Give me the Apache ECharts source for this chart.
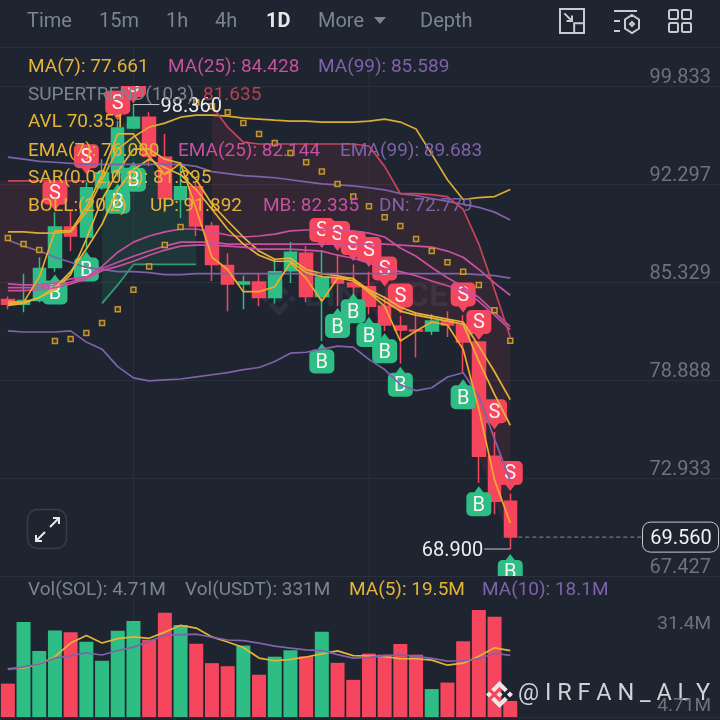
<!DOCTYPE html>
<html><head><meta charset="utf-8">
<style>html,body{margin:0;padding:0;background:#1e2430}#c{width:720px;height:720px}</style>
<script src="https://cdn.jsdelivr.net/npm/echarts@6/dist/echarts.min.js"></script></head>
<body><div id="c"></div><script>
const categories = Array.from({length:45},(_,i)=>String(i+1));
const opens  = [84.15,83.82,84.08,86.33,89.17,88.46,92.02,93.14,96.53,97.37,94.30,91.16,92.09,89.24,86.47,85.20,85.33,84.28,86.11,87.32,84.34,85.66,85.26,85.00,83.69,82.37,82.11,82.05,82.70,82.44,81.32,74.21,71.58];
const closes = [83.82,84.08,86.26,89.17,88.53,92.02,93.14,96.53,97.37,94.38,91.23,92.09,89.24,86.54,85.20,85.33,84.28,86.04,87.39,84.34,85.66,85.26,85.00,83.69,82.44,82.11,82.05,82.70,82.44,81.32,74.21,71.58,69.56];
const lows   = [83.49,83.29,83.95,86.04,87.47,87.61,91.87,92.84,96.45,93.61,90.24,89.81,88.53,85.40,83.36,83.49,83.69,83.88,85.26,83.95,81.39,83.69,83.49,83.16,82.05,79.94,80.33,81.78,81.65,79.35,72.65,70.85,68.90];
const highs  = [84.34,85.90,87.04,90.24,90.31,92.45,94.14,97.07,98.36,97.76,96.07,93.92,92.38,89.53,87.32,85.76,85.90,86.83,88.10,87.82,87.54,87.25,86.54,86.04,84.34,83.03,83.29,83.16,83.36,83.10,81.32,75.67,72.03];
const ma7    = [83.88,83.95,84.28,84.80,85.83,88.32,91.16,93.22,94.91,94.91,94.15,93.84,92.61,90.81,89.60,88.46,87.47,86.90,86.97,86.19,85.90,85.76,85.54,84.80,84.28,83.62,83.23,83.03,82.83,82.64,81.06,79.41,77.66];
const ema7   = [83.75,83.88,84.28,84.94,86.04,87.61,89.38,91.87,93.38,94.15,93.53,92.99,91.87,90.45,89.03,87.96,87.18,86.76,86.76,85.97,85.69,85.62,85.40,84.67,84.02,83.36,83.10,82.90,82.70,82.50,80.07,77.98,76.08];
const avl    = [84.02,83.95,85.66,88.89,88.89,90.59,92.99,96.07,96.07,94.38,92.99,93.84,90.45,87.04,86.19,84.67,84.67,85.00,86.65,85.58,84.02,85.58,85.58,84.61,83.69,81.39,82.05,82.64,82.44,80.86,77.07,72.82,70.35];
const bollUp = [88.82,88.82,88.74,88.74,88.82,90.24,92.61,94.91,95.84,96.60,96.91,97.37,97.53,97.53,97.45,97.30,97.22,97.14,97.07,97.07,96.99,96.99,96.99,97.07,97.22,96.99,96.45,94.53,92.61,91.16,91.30,91.37,91.89];
const bollMb = [85.20,85.13,85.13,85.26,85.54,85.66,86.40,87.39,88.10,88.53,88.82,89.03,89.03,88.82,88.60,88.46,88.53,88.67,88.89,88.96,89.03,88.96,88.89,88.74,88.46,87.68,87.11,86.33,85.62,85.00,84.28,83.29,82.34];
const bollDn = [82.05,81.98,81.98,81.98,82.05,81.32,80.86,79.74,79.02,78.83,78.89,78.95,79.08,79.22,79.35,79.55,79.68,80.07,80.60,80.66,80.86,81.06,80.99,80.20,79.55,78.59,78.22,78.40,79.08,79.35,77.86,75.24,72.78];
const ma25   = [84.94,84.94,84.94,85.13,85.33,85.66,86.26,86.69,87.11,87.47,87.82,88.10,88.10,88.10,87.96,87.96,87.96,87.96,87.96,87.96,87.96,87.96,87.96,87.96,87.96,87.89,87.82,87.75,87.47,87.04,86.19,85.26,84.43];
const ema25  = [84.74,84.74,84.80,84.94,85.20,85.54,86.11,86.40,86.76,87.18,87.54,87.82,87.89,87.89,87.82,87.75,87.61,87.61,87.61,87.54,87.47,87.18,86.97,86.62,86.26,86.04,85.76,85.40,85.07,84.74,84.02,83.10,82.14];
const ma99   = [88.25,87.82,87.47,87.04,86.69,86.33,86.19,86.04,86.04,85.97,85.83,85.83,85.90,85.90,85.90,85.90,85.90,85.90,85.90,85.90,85.90,85.90,85.90,85.90,85.90,85.90,85.90,85.90,85.90,85.90,85.83,85.76,85.59];
const ema99  = [94.30,94.15,93.99,93.92,93.84,93.76,93.76,93.76,93.76,93.76,93.76,93.76,93.61,93.22,93.07,92.92,92.84,92.76,92.61,92.45,92.30,92.23,92.16,92.02,91.87,91.59,91.45,91.23,91.02,90.81,90.59,90.24,89.68];
const sar    = [88.39,87.96,87.54,81.39,81.52,81.91,82.57,83.49,84.80,86.40,87.89,89.17,98.52,98.22,97.76,96.91,96.07,95.38,94.61,93.92,93.22,92.30,91.37,90.66,89.88,89.24,88.32,87.47,86.69,86.04,85.13,83.42,81.40];
const stRed  = [92.53,92.53,92.53,92.53,92.53,92.53,null,null,null,null,null,null,null,98.22,96.60,95.45,95.30,95.30,95.30,95.30,95.30,95.30,95.30,95.15,93.61,91.59,91.59,91.52,91.37,90.45,87.96,84.80,81.64];
const stGreen= [null,null,null,null,null,null,83.88,85.13,86.54,86.54,86.54,86.54,86.54,null,null,null,null,null,null,null,null,null,null,null,null,null,null,null,null,null,null,null,null];
const sellIdx = [3,5,7,8,20,21,22,23,24,25,29,30,31,32];
const sellAt  = [91.66,94.38,98.52,99.90,88.96,88.74,88.03,87.61,86.26,84.41,84.48,82.64,76.94,73.23];
const buyIdx  = [3,5,7,8,20,21,22,23,24,25,29,30,32];
const buyAt   = [84.61,86.19,91.00,92.61,80.07,82.37,83.36,81.78,80.73,78.59,77.80,71.42,67.65];
const volumes = [9.8,27.9,19.4,25.4,24.9,22.1,16.5,25.3,28.2,22.7,30.6,27.0,21.5,15.8,14.9,21.0,12.4,17.7,19.6,17.8,25.0,15.9,10.9,18.6,18.3,21.4,18.3,8.2,10.1,22.2,31.4,29.4,4.71];
const volMa5  = [14.1,14.4,15.5,17.7,21.7,23.9,21.7,23.0,23.5,23.1,24.9,26.9,26.1,23.5,22.0,20.4,17.3,16.5,16.9,17.6,18.5,19.4,18.0,17.9,17.7,17.1,17.1,16.7,15.2,15.8,17.8,20.3,19.5];
const volMa10 = [14.0,14.7,15.5,17.3,18.0,18.8,18.2,19.5,20.5,22.2,24.0,24.2,24.3,23.4,22.6,22.4,21.7,20.8,20.2,19.7,19.5,18.3,17.3,17.5,18.0,18.2,17.8,17.2,16.4,16.5,17.1,18.7,18.1];
const priceTicks = [67.427,72.933,78.888,85.329,92.297,99.833];
const crossIdx = [8,23];
const highPoint = [8,98.36], lowPoint = [32,68.90], lastPrice = [32,69.56];

const BG='#1e2430', GRID='#2a303b', GREEN='#2ebd85', RED='#f6465d', YEL='#e5b437', PINK='#c9509f', PUR='#7f62a8', GRAY='#7b8492', AXIS='#6b7380';
const FONT='Roboto, sans-serif';
const SELL='M5 0H20A5 5 0 0 1 25 5V19A5 5 0 0 1 20 24H17L12.5 30L8 24H5A5 5 0 0 1 0 19V5A5 5 0 0 1 5 0Z';
const BUY ='M12.5 0L17 6H20A5 5 0 0 1 25 11V25A5 5 0 0 1 20 30H5A5 5 0 0 1 0 25V11A5 5 0 0 1 5 6H8Z';
const LOGO='M38.73 53.2 63.3 28.63l24.58 24.58 14.3-14.3L63.3 0 24.43 38.9zM0 63.31l14.3-14.3 14.3 14.3-14.3 14.3zM38.73 73.41 63.3 97.98l24.58-24.58 14.3 14.3L63.3 126.61 24.43 87.73zM97.99 63.31l14.3-14.3 14.3 14.3-14.3 14.3zM77.83 63.3 63.3 48.78 52.58 59.5l-1.23 1.23-2.54 2.54 14.49 14.46 14.53-14.48z';

function T(x,y,text,fill,size,extra){
  return {type:'text',x,y:y+1.5,z:100,silent:true,style:Object.assign({text,fill,font:(size||19)+'px '+FONT,textVerticalAlign:'middle',textBaseline:'middle'},extra||{})};
}
const legend=[
 T(28,66,'MA(7): 77.661',YEL),T(168,66,'MA(25): 84.428',PINK),T(318,66,'MA(99): 85.589',PUR),
 T(28,94,'SUPERTREND(10,3)',GRAY),T(203,94,'81.635','#b8404f'),
 T(28,121,'AVL 70.351',YEL),
 T(28,150,'EMA(7): 76.080',YEL),T(178,150,'EMA(25): 82.144',PINK),T(340,150,'EMA(99): 89.683',PUR),
 T(28,177,'SAR(0.02,0.2): 81.395',YEL),
 T(28,205,'BOLL:(20,2)',YEL),T(150,205,'UP: 91.892',YEL),T(263,205,'MB: 82.335',PINK),T(379,205,'DN: 72.779',PUR),
 T(28,589,'Vol(SOL): 4.71M',GRAY),T(185,589,'Vol(USDT): 331M',GRAY),T(349,589,'MA(5): 19.5M',YEL),T(482,589,'MA(10): 18.1M',PUR),
 T(711,623,'31.4M',AXIS,19,{textAlign:'right'}),T(711,705,'4.71M',AXIS,19,{textAlign:'right'}),
];
const header=[
 T(27,20,'Time',GRAY,20),T(99,20,'15m',GRAY,20),T(166,20,'1h',GRAY,20),T(215,20,'4h',GRAY,20),
 {type:'text',x:266,y:21.5,z:100,style:{text:'1D',fill:'#e6e8ea',font:'bold 20px '+FONT,textBaseline:'middle',textVerticalAlign:'middle'}},
 T(318,20,'More',GRAY,20),T(420,20,'Depth',GRAY,20),
 {type:'polygon',z:100,shape:{points:[[374,17],[386,17],[380,24]]},style:{fill:GRAY}},
 {type:'line',z:1,shape:{x1:0,y1:47.5,x2:720,y2:47.5},style:{stroke:GRID,lineWidth:1}},
 {type:'line',z:1,shape:{x1:700,y1:717.5,x2:720,y2:717.5},style:{stroke:GRID,lineWidth:1}},
 T(518,693,'@ I R F A N _ A L Y','#cfd3d8',23.5),
];
function decor(name,z,items){
  return {name,type:'custom',coordinateSystem:'none',z,silent:true,animation:false,data:[[0]],
    renderItem(){return {type:'group',children:items};}};
}
const iconStyle={stroke:'#c7ccd3',fill:null,lineWidth:2};
const iconItems=[
 {type:'path',shape:{pathData:'M574 10H561V32H574M583 23V10H574M574 23H583V32H574ZM565 14L572 21M572 16V21H567',x:560,y:9,width:24,height:24,layout:'cover'},style:iconStyle},
 {type:'path',shape:{pathData:'M614 11H637M614 21H620M614 31H620M632 15L639 19.5V28.5L632 33L625 28.5V19.5ZM632 22L634 24L632 26L630 24Z',x:614,y:11,width:25,height:22,layout:'cover'},style:iconStyle},
 ...[[669,10],[682,10],[669,23],[682,23]].map(p=>({type:'rect',shape:{x:p[0],y:p[1],width:9,height:9,r:1.5},style:iconStyle})),
 {type:'rect',shape:{x:27.5,y:509.5,width:39,height:39,r:10},style:{stroke:'#363c48',fill:null,lineWidth:1.5}},
 {type:'path',shape:{pathData:'M50 527L59 518M53 518H59V524M45 532L36 541M36 535V541H42',x:36,y:518,width:23,height:23,layout:'cover'},style:{stroke:'#e6e8ea',fill:null,lineWidth:2}},
 {type:'path',shape:{pathData:LOGO,x:486,y:681,width:27,height:27,layout:'cover'},style:{fill:'#f1e6e6'}},
];
const wmItems=[
 {type:'path',shape:{pathData:LOGO,x:262,y:282,width:34,height:34,layout:'cover'},style:{fill:'#2c323d'}},
 {type:'text',style:{text:'BINANCE',x:304,y:297,fill:'#2c323d',font:'bold 34px '+FONT,textBaseline:'middle',textVerticalAlign:'middle'}},
];

function line(name,data,color,extra){
  return Object.assign({name,type:'line',data,xAxisIndex:0,yAxisIndex:0,showSymbol:false,symbol:'none',z:5,silent:true,connectNulls:false,
    lineStyle:{color,width:1.7},animation:false},extra||{});
}
function marks(name,idx,at,path,color,letter,dy){
  return {name,type:'custom',xAxisIndex:0,yAxisIndex:0,clip:true,z:4,silent:true,animation:false,
    data:idx.map((k,j)=>[k,at[j]]),encode:{x:0,y:1},
    renderItem(p,api){
      const c=api.coord([api.value(0),api.value(1)]);
      return {type:'group',children:[
        {type:'path',shape:{pathData:path,x:c[0]-12.5,y:c[1]-15+dy,width:25,height:30,layout:'cover'},style:{fill:color}},
        {type:'text',style:{text:letter,x:c[0],y:c[1]+1.5,fill:'#fdf3f3',font:'20px '+FONT,textAlign:'center',textVerticalAlign:'middle',textBaseline:'middle'}}
      ]};
    }};
}
const option={
 animation:false,backgroundColor:BG,
 grid:[{left:0,width:706.5,top:86,height:490},{left:0,width:706.5,top:610,height:107}],
 xAxis:[0,1].map(g=>({type:'category',gridIndex:g,data:categories,boundaryGap:true,
   axisLine:{show:true,lineStyle:{color:GRID}},axisTick:{show:false},axisLabel:{show:false},splitLine:{show:false}})),
 yAxis:[
  {type:'log',gridIndex:0,position:'right',min:67.427,max:99.833,
   axisLine:{show:false},axisTick:{show:false,customValues:priceTicks},
   splitLine:{show:true,lineStyle:{color:GRID,width:1}},
   axisLabel:{show:true,inside:true,margin:-4.5,customValues:priceTicks,verticalAlign:'bottom',color:AXIS,fontSize:20,fontFamily:FONT,formatter:v=>Number(v).toFixed(3),lineHeight:16}},
  {type:'value',gridIndex:1,position:'right',min:0,max:31.4,axisLine:{show:false},axisTick:{show:false},axisLabel:{show:false},splitLine:{show:false}}
 ],
 graphic:{elements:[...header,...legend]},
 series:[
  decor('Watermark',0,wmItems),
  {name:'GridRight',type:'custom',xAxisIndex:0,yAxisIndex:0,z:0,silent:true,clip:false,animation:false,
   data:priceTicks.map(v=>[32,v]),encode:{x:0,y:1},
   renderItem(p,api){
     const y=Math.round(api.coord([api.value(0),api.value(1)])[1])+0.5;
     return {type:'line',shape:{x1:700,y1:y,x2:720,y2:y},style:{stroke:GRID,lineWidth:1}};
   }},
  {name:'CrossLines',type:'custom',xAxisIndex:0,yAxisIndex:0,z:0,silent:true,clip:false,animation:false,
   data:crossIdx.map(k=>[k,opens[k]]),encode:{x:0,y:1},
   renderItem(p,api){
     const c=api.coord([api.value(0),api.value(1)]);
     return {type:'line',shape:{x1:c[0],y1:48,x2:c[0],y2:717},style:{stroke:GRID,lineWidth:1}};
   }},
  {name:'SuperTrendFill',type:'custom',xAxisIndex:0,yAxisIndex:0,z:1,silent:true,clip:true,animation:false,
   data:closes.map((c,i)=>[i,c]),encode:{x:0,y:1},
   renderItem(p,api){
     const i=api.value(0); if(i>=closes.length-1) return null;
     const red=stRed[i]!=null, top=red?stRed[i]:stGreen[i];
     const nextTop=red?stRed[i+1]:stGreen[i+1];
     if(!red && nextTop==null) return null;
     const tn=nextTop==null?top:nextTop;
     const a=api.coord([i,top]),b=api.coord([i+1,tn]),c=api.coord([i+1,closes[i+1]]),d=api.coord([i,closes[i]]);
     if(i===0){a[0]-=8;d[0]-=8;}
     return {type:'polygon',shape:{points:[a,b,c,d]},style:{fill:red?'rgba(246,70,93,0.10)':'rgba(46,189,133,0.13)'}};
   }},
  {name:'Price',type:'candlestick',xAxisIndex:0,yAxisIndex:0,z:3,silent:true,barWidth:13,animation:false,
   data:opens.map((o,i)=>[o,closes[i],lows[i],highs[i]]),
   itemStyle:{color:GREEN,color0:RED,borderColor:GREEN,borderColor0:RED,borderWidth:1.5}},
  marks('Sell',sellIdx,sellAt,SELL,RED,'S',3),
  marks('Buy',buyIdx,buyAt,BUY,GREEN,'B',-3),
  line('BOLL UP',bollUp,'#d9ab30'),line('BOLL MB',bollMb,PINK),line('BOLL DN',bollDn,PUR),
  line('MA7',ma7,YEL),line('MA25',ma25,PINK),line('MA99',ma99,PUR),
  line('EMA7',ema7,YEL),line('EMA25',ema25,PINK),line('EMA99',ema99,PUR),
  line('AVL',avl,'#f0a92a'),
  line('SuperTrendDown',stRed,'#c9435a'),line('SuperTrendUp',stGreen,'#2f9c76'),
  {name:'SAR',type:'scatter',xAxisIndex:0,yAxisIndex:0,data:sar.map((v,i)=>[i,v]),symbol:'rect',symbolSize:5,z:6,silent:true,animation:false,
   itemStyle:{color:'#4b3d1c',borderColor:'#e5b033',borderWidth:1.5}},
  {name:'Flags',type:'custom',xAxisIndex:0,yAxisIndex:0,z:7,silent:true,animation:false,
   data:[[highPoint[0],highPoint[1],1],[lowPoint[0],lowPoint[1],-1]],encode:{x:0,y:1},
   renderItem(p,api){
     const v=api.value(1),dir=api.value(2),c=api.coord([api.value(0),v]);
     const x2=c[0]+dir*26;
     return {type:'group',children:[
       {type:'line',shape:{x1:c[0],y1:c[1],x2,y2:c[1]},style:{stroke:'#c4c8ce',lineWidth:1}},
       {type:'text',style:{text:v.toFixed(3),x:x2+dir*1,y:c[1]+2,fill:'#eceef0',font:'20px '+FONT,textAlign:dir>0?'left':'right',textVerticalAlign:'middle',textBaseline:'middle'}}
     ]};
   }},
  {name:'LastPrice',type:'custom',xAxisIndex:0,yAxisIndex:0,z:8,silent:true,animation:false,
   data:[lastPrice],encode:{x:0,y:1},
   renderItem(p,api){
     const v=api.value(1),c=api.coord([api.value(0),v]);
     return {type:'group',children:[
       {type:'line',shape:{x1:c[0]+8,y1:c[1],x2:642,y2:c[1]},style:{stroke:'#8a909a',lineWidth:1,lineDash:[4,3]}},
       {type:'rect',shape:{x:642.5,y:c[1]-15,width:76,height:30,r:8},style:{fill:BG,stroke:'#c7cbd1',lineWidth:1}},
       {type:'text',style:{text:v.toFixed(3),x:681,y:c[1]+2,fill:'#f2f3f5',font:'20px '+FONT,textAlign:'center',textVerticalAlign:'middle',textBaseline:'middle'}}
     ]};
   }},
  {name:'Volume',type:'bar',xAxisIndex:1,yAxisIndex:1,barWidth:14,z:2,silent:true,animation:false,
   data:volumes.map((v,i)=>({value:v,itemStyle:{color:closes[i]>=opens[i]?GREEN:RED}}))},
  {name:'VolMA5',type:'line',xAxisIndex:1,yAxisIndex:1,data:volMa5,showSymbol:false,symbol:'none',z:5,silent:true,animation:false,lineStyle:{color:YEL,width:1.7}},
  {name:'VolMA10',type:'line',xAxisIndex:1,yAxisIndex:1,data:volMa10,showSymbol:false,symbol:'none',z:5,silent:true,animation:false,lineStyle:{color:PUR,width:1.7}},
  decor('Icons',100,iconItems),
 ]
};
const chart=echarts.init(document.getElementById('c'),null,{renderer:'canvas',width:720,height:720});
chart.setOption(option);
</script></body></html>
